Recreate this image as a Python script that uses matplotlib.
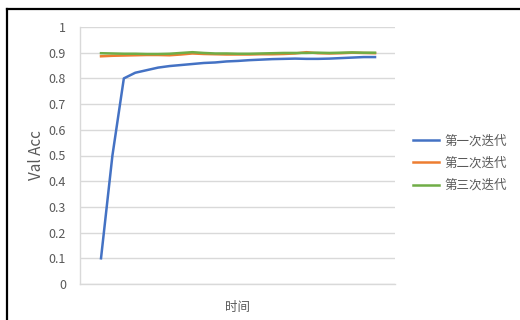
import matplotlib.pyplot as plt
from matplotlib.lines import Line2D

plt.rcParams['font.family'] = ['Noto Sans CJK SC', 'DejaVu Sans']

# accuracy per step for the three runs
steps = list(range(25))
run1 = [0.10, 0.50, 0.80, 0.822, 0.832, 0.842, 0.848, 0.852, 0.856, 0.860,
        0.862, 0.866, 0.868, 0.871, 0.873, 0.875, 0.876, 0.877, 0.876, 0.876,
        0.877, 0.879, 0.881, 0.883, 0.883]
run2 = [0.886, 0.888, 0.889, 0.890, 0.891, 0.891, 0.890, 0.893, 0.897, 0.895,
        0.894, 0.893, 0.893, 0.893, 0.894, 0.894, 0.895, 0.897, 0.902, 0.898,
        0.897, 0.898, 0.900, 0.899, 0.898]
run3 = [0.898, 0.897, 0.896, 0.896, 0.895, 0.895, 0.896, 0.899, 0.902, 0.899,
        0.897, 0.897, 0.896, 0.896, 0.897, 0.898, 0.899, 0.899, 0.899, 0.900,
        0.899, 0.900, 0.901, 0.900, 0.900]
names = ['第一次迭代', '第二次迭代', '第三次迭代']
yticks = [0, 0.1, 0.2, 0.3, 0.4, 0.5, 0.6, 0.7, 0.8, 0.9, 1]

grey = '#595959'

fig = plt.figure(figsize=(5.2, 3.2), dpi=100)
ax = fig.add_axes([80/520, 1 - 284/320, 315/520, 257/320])

ax.plot(steps, run1, color='#4472C4', lw=1.8, label=names[0])
ax.plot(steps, run2, color='#ED7D31', lw=1.8, label=names[1])
ax.plot(steps, run3, color='#70AD47', lw=1.8, label=names[2])

ax.set_ylim(0, 1)
ax.set_xlim(-1.84, 25.75)
ax.set_yticks(yticks)
ax.set_yticklabels([f'{t:g}' for t in yticks])
ax.set_xticks([])
ax.tick_params(axis='y', length=0, pad=10, labelsize=9, labelcolor=grey)
ax.grid(axis='y', color='#D9D9D9', lw=1)
ax.set_axisbelow(True)
for s in ['top', 'right']:
    ax.spines[s].set_visible(False)
for s in ['left', 'bottom']:
    ax.spines[s].set_color('#D9D9D9')
    ax.spines[s].set_linewidth(1)

ax.set_ylabel('Val Acc', fontsize=11, color=grey, labelpad=3)
ax.set_xlabel('时间', fontsize=9, color=grey, labelpad=12)

fig.legend(loc='center left', bbox_to_anchor=(413/520, 1 - 163/320),
           frameon=False, fontsize=9, handlelength=2.1, handletextpad=0.4,
           labelspacing=0.75, borderpad=0, borderaxespad=0, labelcolor=grey)

# dark frame along the top and left edge
fig.add_artist(Line2D([7/520, 1], [1 - 9/320, 1 - 9/320], color='black', lw=1.6))
fig.add_artist(Line2D([7/520, 7/520], [0, 1 - 9/320], color='black', lw=1.6))

fig.savefig('out.png', dpi=100)
